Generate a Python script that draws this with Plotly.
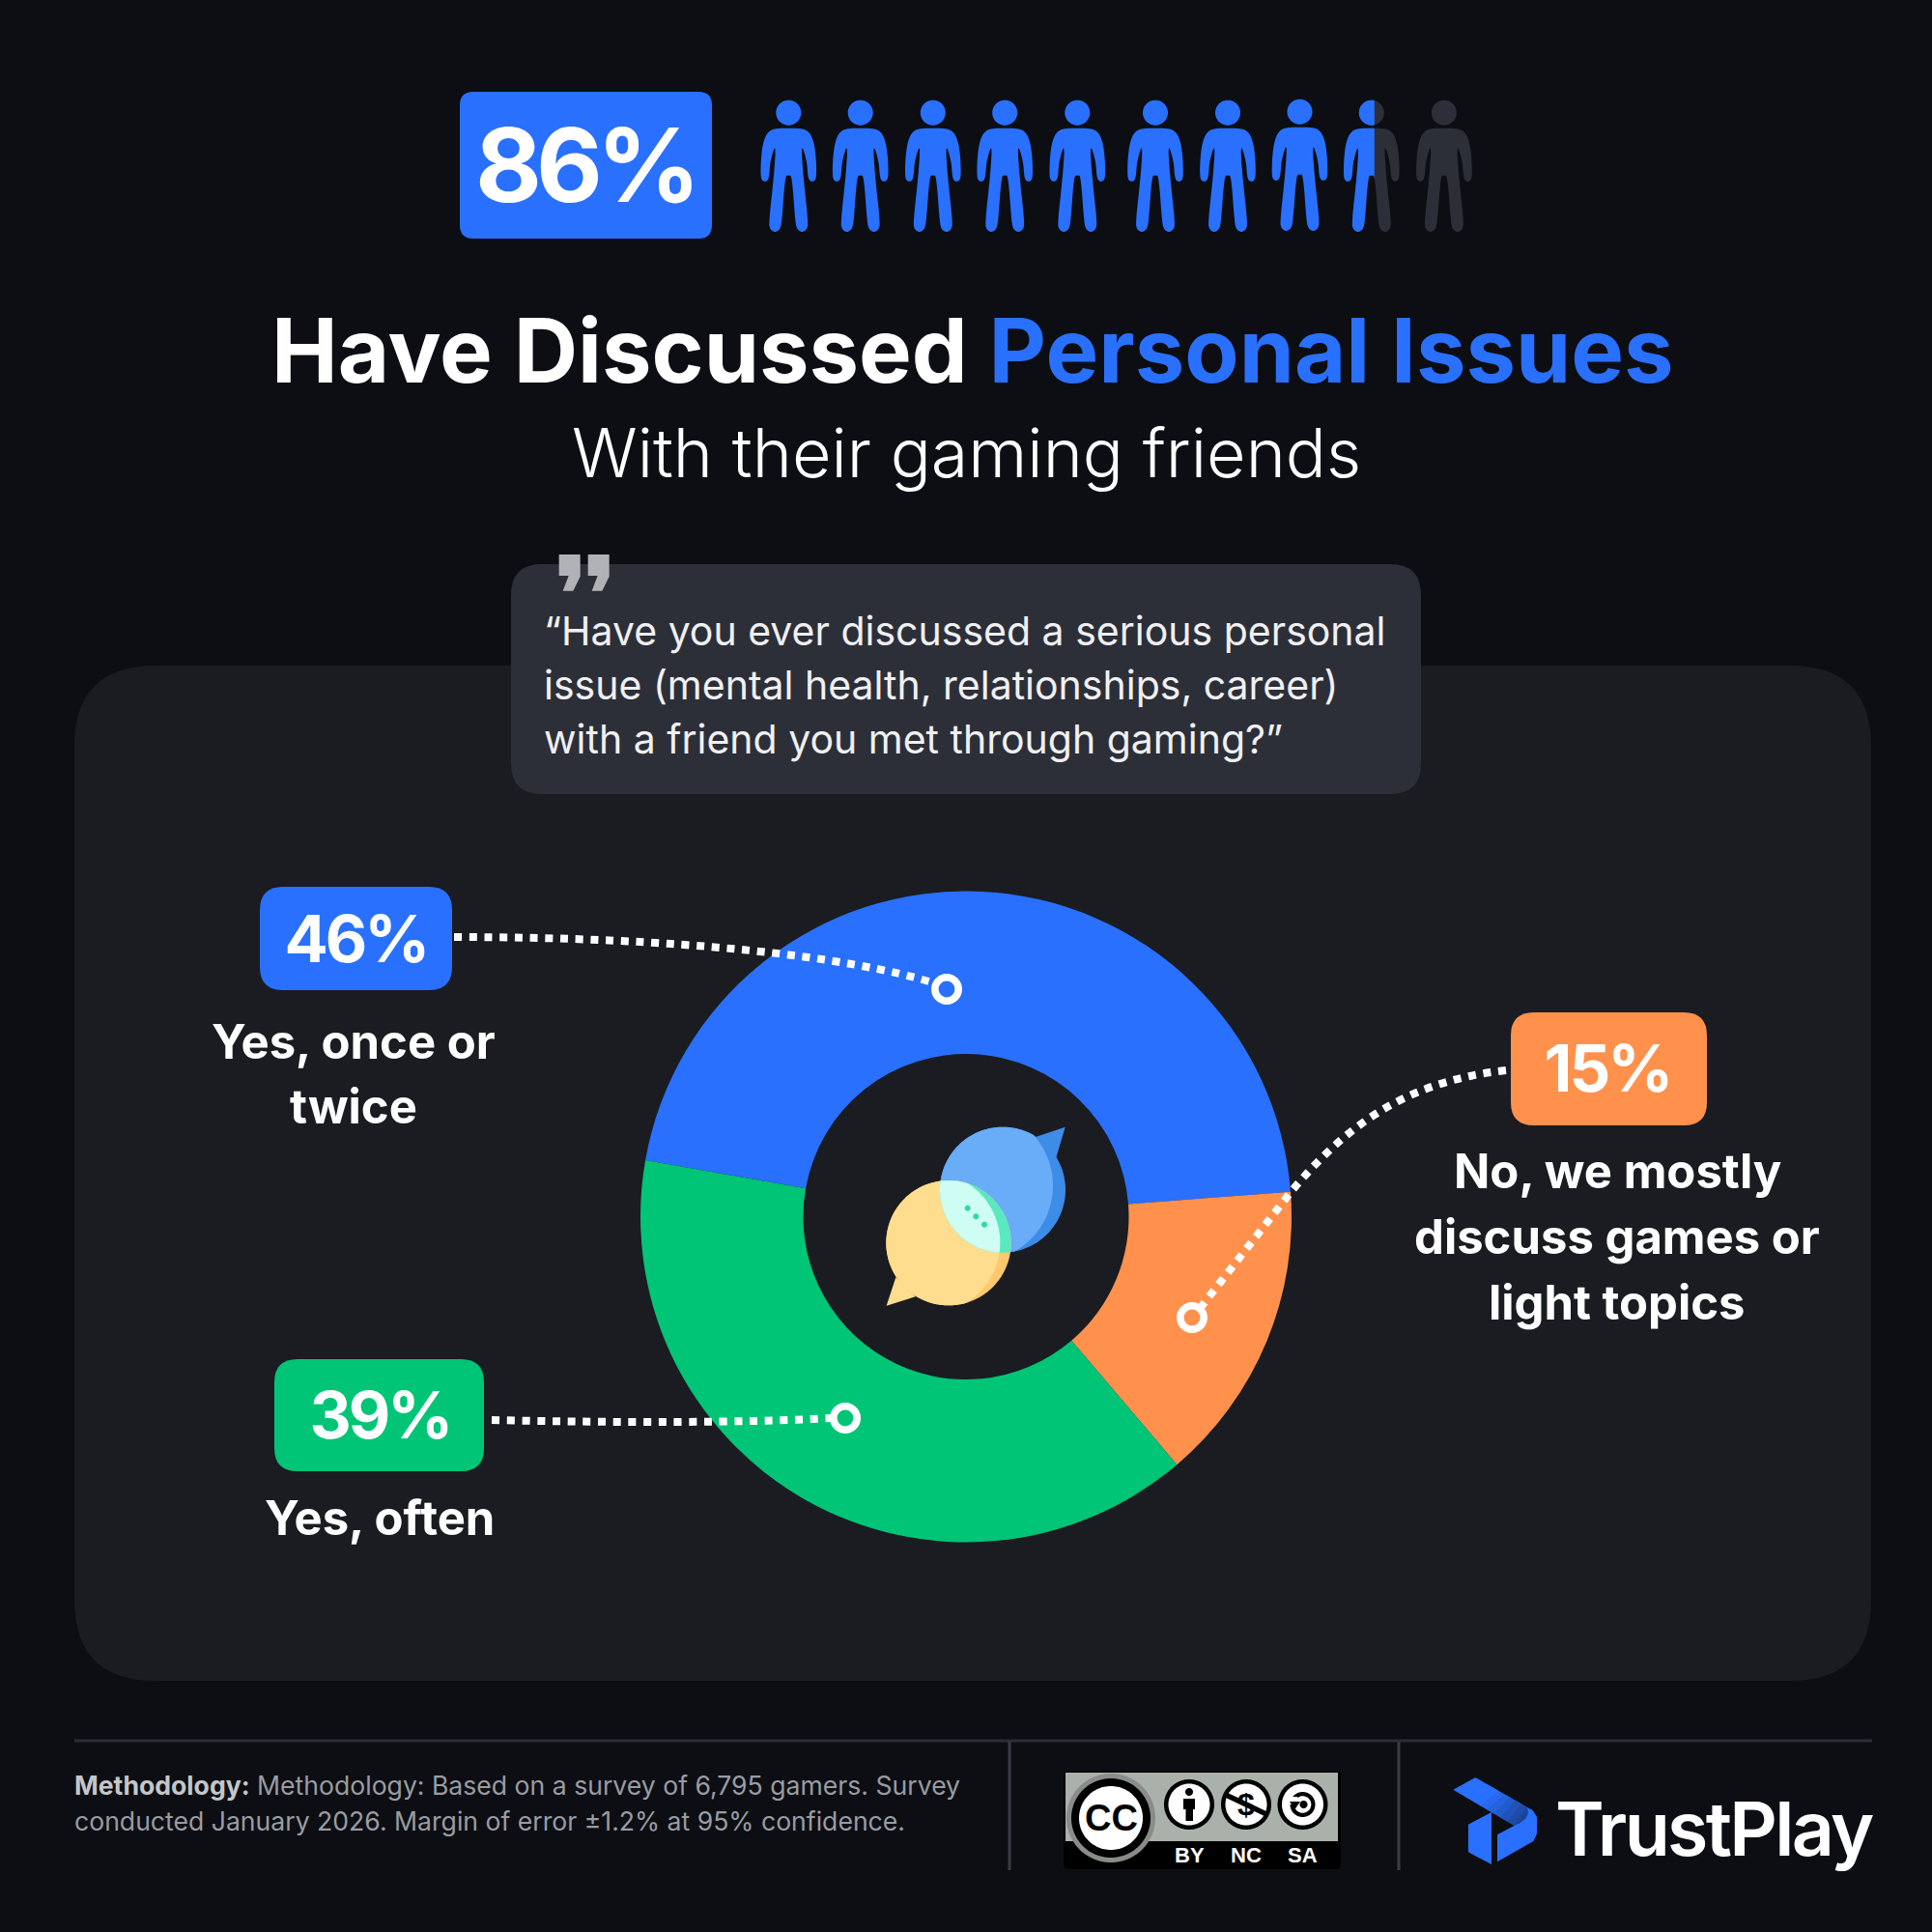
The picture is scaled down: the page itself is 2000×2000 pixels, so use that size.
import json

import numpy as np
import plotly.graph_objects as go

# chart data
categories = ["Yes, once or<br>twice", "No, we mostly<br>discuss games or<br>light topics", "Yes, often"]
shares = [46, 15, 39]
share_labels = ["46%", "15%", "39%"]
colors = ["#2970ff", "#ff914d", "#00c577"]
headline_share = 86
people_total = 10

BG = "#0c0e13"
PANEL = "#1a1c21"
BOX = "#2c2f38"
BLUE = "#2970ff"
FONT = "Inter"

shapes = []
notes = []
tracking = []  # letter spacing per annotation, applied in post_script


def path_shape(path, fill, layer="above"):
    shapes.append(dict(type="path", path=path, fillcolor=fill, line_width=0, layer=layer,
                       xref="x", yref="y"))


def poly(points):
    return "M" + "L".join(f"{x:.2f},{y:.2f}" for x, y in points) + "Z"


def round_rect(x0, y0, x1, y1, r):
    return (f"M{x0+r},{y0}L{x1-r},{y0}Q{x1},{y0} {x1},{y0+r}L{x1},{y1-r}Q{x1},{y1} {x1-r},{y1}"
            f"L{x0+r},{y1}Q{x0},{y1} {x0},{y1-r}L{x0},{y0+r}Q{x0},{y0} {x0+r},{y0}Z")


def circle_pts(cx, cy, r, n=120):
    t = np.linspace(0, 2 * np.pi, n, endpoint=False)
    return np.column_stack([cx + r * np.cos(t), cy + r * np.sin(t)])


def circle(cx, cy, r, fill, layer="above"):
    path_shape(poly(circle_pts(cx, cy, r)), fill, layer)


def text(x, y, s, size, color="#ffffff", weight=400, xanchor="center", family=FONT, spacing=0):
    notes.append(dict(x=x, y=y, xref="x", yref="y", text=s, showarrow=False, xanchor=xanchor,
                      yanchor="middle", align=xanchor,
                      font=dict(size=size, color=color, family=family, weight=weight)))
    tracking.append(spacing)


def lines(x, ys, s, size, **kw):
    for y, part in zip(ys, s.split("<br>")):
        text(x, y, part, size, **kw)


def smooth(points, rounds=2):
    pts = np.array(points, dtype=float)
    for _ in range(rounds):
        nxt = np.roll(pts, -1, axis=0)
        pts = np.column_stack([0.75 * pts + 0.25 * nxt, 0.25 * pts + 0.75 * nxt]).reshape(-1, 2)
    return pts


def clip_right(points, cut):
    out = []
    for a, b in zip(points, np.roll(points, -1, axis=0)):
        if a[0] <= cut:
            out.append(a)
        if (a[0] <= cut) != (b[0] <= cut):
            t = (cut - a[0]) / (b[0] - a[0])
            out.append(a + t * (b - a))
    return out


# right half of a person, relative to head centre
half_person = [(0, 16), (12, 16), (21, 19), (26, 29), (28.5, 46), (29, 66), (27, 71), (22, 71), (20, 66),
               (19, 50), (13, 31), (15, 64), (20.5, 114), (19, 121), (14, 124), (9, 121), (7, 114),
               (3.5, 65), (0, 65)]
full_person = half_person + [(-x, y) for x, y in half_person[-2:0:-1]]

person_x = [816.3, 890.7, 965.8, 1040.2, 1115.3, 1196, 1271, 1345.5, 1419.8, 1494.9]
person_y = [116.7] * 7 + [115.7] + [116.7] * 2
DIM = "#2c2f38"

# page furniture under the chart
path_shape(round_rect(77, 689, 1937, 1740, 84), PANEL, "below")
path_shape(round_rect(529, 584, 1471, 822, 32), BOX, "below")
for dx in (0, 30):
    zx = [236, 302, 302, 280, 248, 266, 236]
    zy = [42, 42, 110, 155, 155, 108, 108]
    path_shape(poly([(500 + a / 3 + dx, 560 + b / 3) for a, b in zip(zx, zy)]), "#b0b2b6", "below")

# headline
path_shape(round_rect(476, 95, 737, 247, 14), BLUE)
text(606, 170, f"{headline_share}%", 106, weight=700, spacing=-6)
for i, (px, py) in enumerate(zip(person_x, person_y)):
    body = smooth([(px + a, py + b) for a, b in full_person])
    filled = headline_share / 100 * people_total - i
    if filled >= 1:
        circle(px, py, 13, BLUE)
        path_shape(poly(body), BLUE)
    else:
        circle(px, py, 13, DIM)
        path_shape(poly(body), DIM)
        if filled > 0:
            cut = px + 3
            path_shape(poly(clip_right(circle_pts(px, py, 13), cut)), BLUE)
            path_shape(poly(clip_right(body, cut)), BLUE)

text(1007, 362, f"Have Discussed <span style='color:{BLUE}'>Personal Issues</span>", 92, weight=700)
text(1000, 468, "With their gaming friends", 70, weight=300)
lines(561, [653, 709, 765], "“Have you ever discussed a serious personal<br>issue (mental health, relationships, career)<br>"
      "with a friend you met through gaming?”", 41, xanchor="left", color="#f0f0f2")

# callouts
callout_boxes = [(269, 918, 468, 1025), (1564, 1048, 1767, 1165), (284, 1407, 501, 1523)]
callout_text = [(368, 971), (1664, 1105), (393, 1464)]
label_x = [366, 1674, 393]
label_y = [[1078, 1145], [1212, 1280, 1348], [1571]]
leader_paths = ["M470,970C700,970 880,990 968,1018",
                "M1559,1108C1450,1120 1390,1170 1337,1233L1244,1352",
                "M509,1470C640,1473 770,1473 860,1468"]
ring_pos = [(980, 1024), (1234, 1364), (875, 1468)]
for box, tp, lx, ly, path, ring, lab, pct, col in zip(callout_boxes, callout_text, label_x, label_y, leader_paths,
                                                      ring_pos, categories, share_labels, colors):
    path_shape(round_rect(*box, 24), col)
    text(tp[0], tp[1], pct, 67, weight=700, spacing=-3)
    lines(lx, ly, lab, 49, weight=700)
    shapes.append(dict(type="path", path=path, line=dict(color="#ffffff", width=8, dash="8px,7.7px"),
                       layer="above", xref="x", yref="y"))
    shapes.append(dict(type="circle", x0=ring[0] - 12.2, x1=ring[0] + 12.2, y0=ring[1] - 12.2, y1=ring[1] + 12.2,
                       line=dict(color="#ffffff", width=7.6), fillcolor=col, layer="above", xref="x", yref="y"))


# centre icon, drawn in the zoomed crop's pixels
def ic(x, y):
    return (880 + x / 3, 1130 + y / 3)


def lens(*circles):
    pts = []
    for i, (cx, cy, r) in enumerate(circles):
        for p in circle_pts(cx, cy, r, 360):
            if all(np.hypot(p[0] - c[0], p[1] - c[1]) <= c[2] for j, c in enumerate(circles) if j != i):
                pts.append(p)
    pts = np.array(pts)
    mid = pts.mean(axis=0)
    return pts[np.argsort(np.arctan2(pts[:, 1] - mid[1], pts[:, 0] - mid[0]))]


def ic_circle(x, y, r):
    px, py = ic(x, y)
    return (px, py, r / 3)


blue_c = ic_circle(474, 305, 195)
blue_in = ic_circle(395, 292, 235)
yel_c = ic_circle(306, 470, 194)
yel_in = ic_circle(248, 469, 218)
path_shape(poly([ic(578, 140), ic(668, 110), ic(640, 205)]), "#3c8ce8")
circle(*blue_c, "#3c8ce8")
path_shape(poly(lens(blue_c, blue_in)), "#69acf7")
path_shape(poly([ic(142, 577), ic(113, 665), ic(203, 637)]), "#ffdd8e")
circle(*yel_c, "#fdc86e")
path_shape(poly(lens(yel_c, yel_in)), "#ffdd8e")
path_shape(poly(lens(yel_c, blue_c)), "#5ae8c0")
path_shape(poly(lens(yel_c, blue_c, yel_in)), "#cdfdf3")
for zx, zy in [(365, 362), (391, 388), (417, 413)]:
    circle(*ic_circle(zx, zy, 9), "#2fd9a6")

# footer
path_shape("M77,1800.5H1938V1803.5H77Z", "#2c2f38")
path_shape("M1043.5,1803H1046.5V1936H1043.5Z", "#3a3c44")
path_shape("M1446.5,1803H1449.5V1936H1446.5Z", "#3a3c44")
lines(75, [1848, 1885], "<b style='color:#c4c6ca'>Methodology:</b> Methodology: Based on a survey of 6,795 gamers. Survey<br>"
      "conducted January 2026. Margin of error ±1.2% at 95% confidence.", 26.6, color="#9a9ca3",
      xanchor="left")

# licence badge
path_shape(round_rect(1101, 1833, 1388, 1935, 6), "#000000")
path_shape("M1103,1835H1385V1906H1103Z", "#aab0aa")
circle(1150, 1882, 46, "#8a8c8a")
circle(1150, 1882, 41, "#000000")
circle(1150, 1882, 33, "#ffffff")
text(1150, 1882, "CC", 38, color="#000000", weight=700, family="Liberation Sans")
badge_x = [1231, 1290, 1348.5]
for bx, tag in zip(badge_x, ["BY", "NC", "SA"]):
    circle(bx, 1868, 26, "#000000")
    circle(bx, 1868, 21.5, "#ffffff")
    text(bx, 1920, tag, 22, weight=700, family="Liberation Sans")
circle(1231, 1855, 4, "#000000")
path_shape("M1225,1862H1237V1873H1235V1885H1227.5V1873H1225Z", "#000000")
text(1290, 1868, "$", 32, color="#000000", weight=700, family="Liberation Sans")
path_shape("M1267,1860L1269,1855L1313,1876L1311,1881Z", "#000000")
circle(1348.5, 1868, 13, "#000000")
circle(1348.5, 1868, 8.8, "#ffffff")
circle(1349.5, 1868, 4, "#000000")
path_shape("M1334,1860H1343V1868H1334Z", "#ffffff")
path_shape("M1335,1865L1346,1865L1340.5,1873Z", "#000000")


# brand mark, drawn in the zoomed crop's pixels
def lg(x, y):
    return (1480 + x / 3, 1830 + y / 3)


path_shape(poly([lg(120, 176), lg(192, 138), lg(192, 300), lg(120, 262)]), BLUE)
path_shape(poly([lg(210, 208), lg(262, 180), lg(302, 122), lg(320, 132), lg(333, 152), lg(333, 205),
                 lg(322, 228), lg(210, 292)]), BLUE)
top_l, top_r = np.array([73, 68]), np.array([142, 30])
end_l, end_r = np.array([262, 180]), np.array([303, 122])
steps = 9
for k in range(steps):
    t0, t1 = k / steps, min((k + 1.1) / steps, 1)
    mix = max(0, (t0 - 0.35) / 0.65)
    shade = "#%02x%02x%02x" % (round(41 - 13 * mix), round(112 - 44 * mix), round(255 - 105 * mix))
    pts = [top_l + t0 * (end_l - top_l), top_r + t0 * (end_r - top_r),
           top_r + t1 * (end_r - top_r), top_l + t1 * (end_l - top_l)]
    path_shape(poly([lg(*p) for p in pts]), shade)
path_shape(poly([lg(262, 180), lg(303, 122), lg(306, 140), lg(298, 158), lg(280, 172)]), "#1c4496")
text(1608, 1893, "TrustPlay", 77, weight=600, xanchor="left", spacing=-2.7)

fig = go.Figure()
# invisible trace keeps the 0-2000 pixel axes alive for the shapes
fig.add_trace(go.Scatter(x=[0, 2000], y=[0, 2000], mode="none", hoverinfo="skip", showlegend=False))
fig.add_trace(go.Pie(labels=[c.replace("<br>", " ") for c in categories], values=shares, sort=False,
                     direction="clockwise", rotation=-80, hole=0.5,
                     marker=dict(colors=colors, line=dict(width=0)), textinfo="none", hoverinfo="label+percent",
                     showlegend=False, domain=dict(x=[663 / 2000, 1337 / 2000], y=[403 / 2000, 1078 / 2000])))
fig.update_layout(
    width=2000,
    height=2000,
    margin=dict(l=0, r=0, t=0, b=0),
    paper_bgcolor=BG,
    plot_bgcolor="rgba(0,0,0,0)",
    xaxis=dict(range=[0, 2000], visible=False, fixedrange=True),
    yaxis=dict(range=[2000, 0], visible=False, fixedrange=True),
    shapes=shapes,
    annotations=notes,
)

# plotly has no letter-spacing option for annotations, so set it on the drawn text
post = """document.body.style.margin='0';
var sp = %s;
var gd = document.getElementById('{plot_id}');
function track() {
  gd.querySelectorAll('.annotation').forEach(function (a) {
    a.querySelector('text').style.letterSpacing = sp[+a.getAttribute('data-index')] + 'px';
  });
}
track();
gd.on('plotly_afterplot', track);
""" % json.dumps(tracking)
fig.write_html("out.html", config={"displayModeBar": False}, post_script=post)
